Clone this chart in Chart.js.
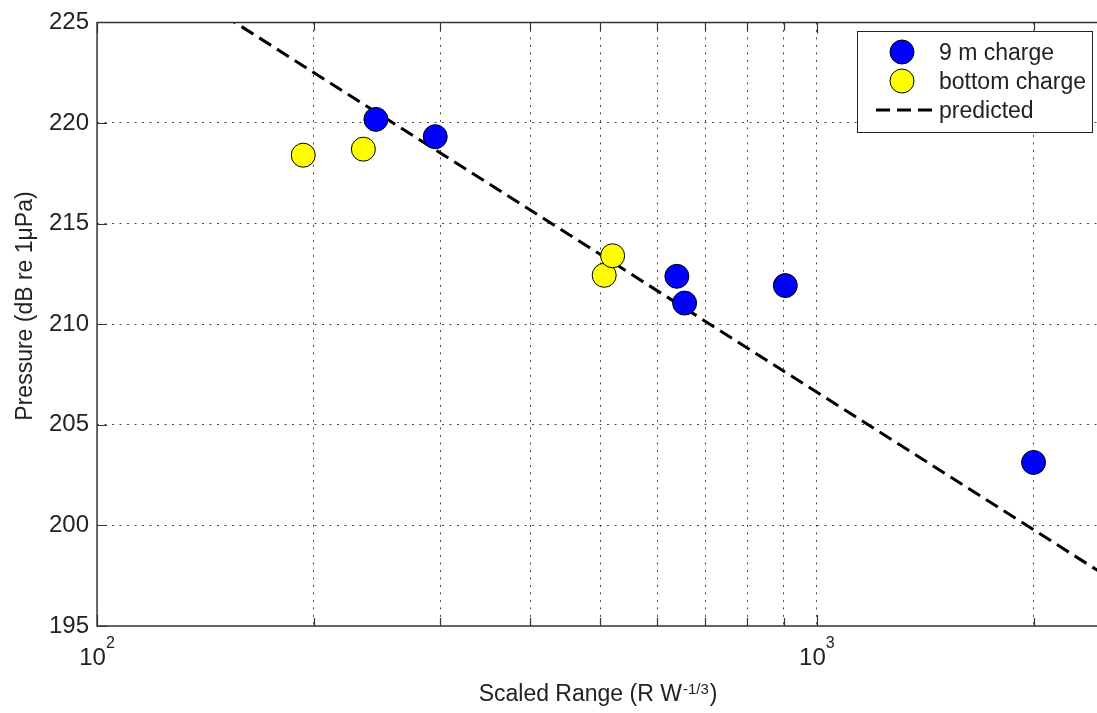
<!DOCTYPE html>
<html lang="en">
<head>
  <meta charset="UTF-8" />
  <title>Pressure vs Scaled Range</title>
  <script src="https://cdn.jsdelivr.net/npm/chart.js"></script>
  <style>
    body {
      margin: 0;
      background: #ffffff;
    }
    #wrap {
      width: 1097px;
      height: 713px;
    }
  </style>
</head>
<body>
  <div id="wrap"><canvas id="grafico"></canvas></div>

  <script>
    // values
    const nineMX = [244, 295, 639, 655, 904, 2000];
    const nineMY = [220.18, 219.32, 212.38, 211.05, 211.92, 203.13];
    const bottomX = [193.4, 234.4, 506.5, 520.3];
    const bottomY = [218.40, 218.70, 212.43, 213.40];
    const predX = [150, 2500];
    const predY = [225.35, 197.58];

    const xTicks = [100, 200, 300, 400, 500, 600, 700, 800, 900, 1000, 2000];
    const xMajor = [100, 1000];
    const yTicks = [195, 200, 205, 210, 215, 220, 225];
    const legendLabels = ['9 m charge', 'bottom charge', 'predicted'];

    const FONT = "'Liberation Sans', Arial, Helvetica, sans-serif";
    const INK = '#222';
    const GRID = 'rgba(40,40,40,0.85)';

    const toPoints = (xs, ys) => xs.map((x, i) => ({ x, y: ys[i] }));

    // axes box, inward ticks, labels with superscripts and the legend
    const matlabLook = {
      id: 'matlabLook',
      afterDraw(chart) {
        const { ctx, chartArea: a, scales: { x, y } } = chart;
        ctx.save();

        // box
        ctx.strokeStyle = '#333';
        ctx.lineWidth = 1.5;
        ctx.beginPath();
        ctx.moveTo(a.right + 1, a.top);
        ctx.lineTo(a.left, a.top);
        ctx.lineTo(a.left, a.bottom);
        ctx.lineTo(a.right + 1, a.bottom);
        ctx.stroke();

        // ticks pointing in
        ctx.lineWidth = 1.2;
        ctx.beginPath();
        xTicks.forEach(v => {
          const px = Math.round(x.getPixelForValue(v)) + 0.5;
          const len = xMajor.includes(v) ? 11 : 8;
          ctx.moveTo(px, a.bottom);
          ctx.lineTo(px, a.bottom - len);
          ctx.moveTo(px, a.top);
          ctx.lineTo(px, a.top + len);
        });
        yTicks.forEach(v => {
          const py = Math.round(y.getPixelForValue(v)) + 0.5;
          ctx.moveTo(a.left, py);
          ctx.lineTo(a.left + 10, py);
        });
        ctx.stroke();

        // x tick labels 10^2, 10^3
        ctx.fillStyle = INK;
        ctx.textBaseline = 'alphabetic';
        ctx.textAlign = 'left';
        xMajor.forEach(v => {
          const base = '10';
          const exp = String(Math.round(Math.log10(v)));
          ctx.font = '24px ' + FONT;
          const wb = ctx.measureText(base).width;
          ctx.font = '16px ' + FONT;
          const we = ctx.measureText(exp).width;
          const px = x.getPixelForValue(v);
          const start = px - (wb + we) / 2;
          ctx.font = '24px ' + FONT;
          ctx.fillText(base, start, 665);
          ctx.font = '16px ' + FONT;
          ctx.fillText(exp, start + wb, 648);
        });

        // x title with superscript
        const t1 = 'Scaled Range (R W';
        const t2 = '-1/3';
        const t3 = ')';
        ctx.font = '23px ' + FONT;
        const w1 = ctx.measureText(t1).width;
        const w3 = ctx.measureText(t3).width;
        ctx.font = '15px ' + FONT;
        const w2 = ctx.measureText(t2).width;
        let sx = (a.left + a.right) / 2 - (w1 + w2 + w3) / 2;
        ctx.font = '23px ' + FONT;
        ctx.fillText(t1, sx, 701);
        ctx.font = '15px ' + FONT;
        ctx.fillText(t2, sx + w1 + 1, 694);
        ctx.font = '23px ' + FONT;
        ctx.fillText(t3, sx + w1 + w2 + 2, 701);

        // y title
        ctx.save();
        ctx.translate(32, 306);
        ctx.rotate(-Math.PI / 2);
        ctx.textAlign = 'center';
        ctx.font = '23px ' + FONT;
        ctx.fillText('Pressure (dB re 1\u03BCPa)', 0, 0);
        ctx.restore();

        // legend
        const lx = 857, ly = 31, lw = 235, lh = 101;
        ctx.fillStyle = '#fff';
        ctx.fillRect(lx, ly, lw, lh);
        ctx.strokeStyle = '#222';
        ctx.lineWidth = 1;
        ctx.strokeRect(lx + 0.5, ly + 0.5, lw, lh);

        const ds = chart.data.datasets;
        const rows = [52, 81, 110];
        rows.forEach((ry, i) => {
          const d = ds[i];
          if (d.showLine) {
            ctx.strokeStyle = d.borderColor;
            ctx.lineWidth = d.borderWidth;
            ctx.setLineDash(d.borderDash);
            ctx.beginPath();
            ctx.moveTo(876, ry);
            ctx.lineTo(932, ry);
            ctx.stroke();
            ctx.setLineDash([]);
          } else {
            ctx.beginPath();
            ctx.arc(902, ry, d.pointRadius, 0, Math.PI * 2);
            ctx.fillStyle = d.backgroundColor;
            ctx.fill();
            ctx.strokeStyle = d.borderColor;
            ctx.lineWidth = d.borderWidth;
            ctx.stroke();
          }
          ctx.fillStyle = INK;
          ctx.font = '23px ' + FONT;
          ctx.textAlign = 'left';
          ctx.fillText(legendLabels[i], 939, ry + 8);
        });

        ctx.restore();
      }
    };

    new Chart(document.getElementById('grafico'), {
      type: 'scatter',
      data: {
        datasets: [
          {
            label: legendLabels[0],
            data: toPoints(nineMX, nineMY),
            backgroundColor: '#0000ff',
            borderColor: '#000',
            borderWidth: 1,
            pointRadius: 12,
            pointHoverRadius: 12,
            order: 1
          },
          {
            label: legendLabels[1],
            data: toPoints(bottomX, bottomY),
            backgroundColor: '#ffff00',
            borderColor: '#000',
            borderWidth: 1,
            pointRadius: 12,
            pointHoverRadius: 12,
            order: 2
          },
          {
            label: legendLabels[2],
            data: toPoints(predX, predY),
            showLine: true,
            borderColor: '#000',
            borderWidth: 3,
            borderDash: [14, 7],
            pointRadius: 0,
            fill: false,
            order: 3
          }
        ]
      },
      options: {
        responsive: true,
        maintainAspectRatio: false,
        animation: false,
        layout: {
          autoPadding: false,
          padding: { left: 41, top: 18, right: 0, bottom: 87 }
        },
        scales: {
          x: {
            type: 'logarithmic',
            min: 100,
            max: 2450,
            afterBuildTicks: axis => {
              axis.ticks = xTicks.map(v => ({ value: v }));
            },
            ticks: { display: false },
            border: { display: false, dash: [2, 5.5] },
            grid: {
              drawTicks: false,
              lineWidth: 1,
              color: ctx => ctx.tick && ctx.tick.value === 100 ? 'rgba(0,0,0,0)' : GRID
            }
          },
          y: {
            min: 195,
            max: 225,
            afterBuildTicks: axis => {
              axis.ticks = yTicks.map(v => ({ value: v }));
            },
            ticks: {
              padding: 8,
              color: INK,
              font: { family: FONT, size: 24 },
              callback: v => String(v)
            },
            border: { display: false, dash: [2, 5.5] },
            grid: {
              drawTicks: false,
              lineWidth: 1,
              color: ctx => ctx.tick && (ctx.tick.value === 195 || ctx.tick.value === 225) ? 'rgba(0,0,0,0)' : GRID
            }
          }
        },
        plugins: {
          legend: { display: false },
          tooltip: { enabled: false }
        }
      },
      plugins: [matlabLook]
    });
  </script>
</body>
</html>
